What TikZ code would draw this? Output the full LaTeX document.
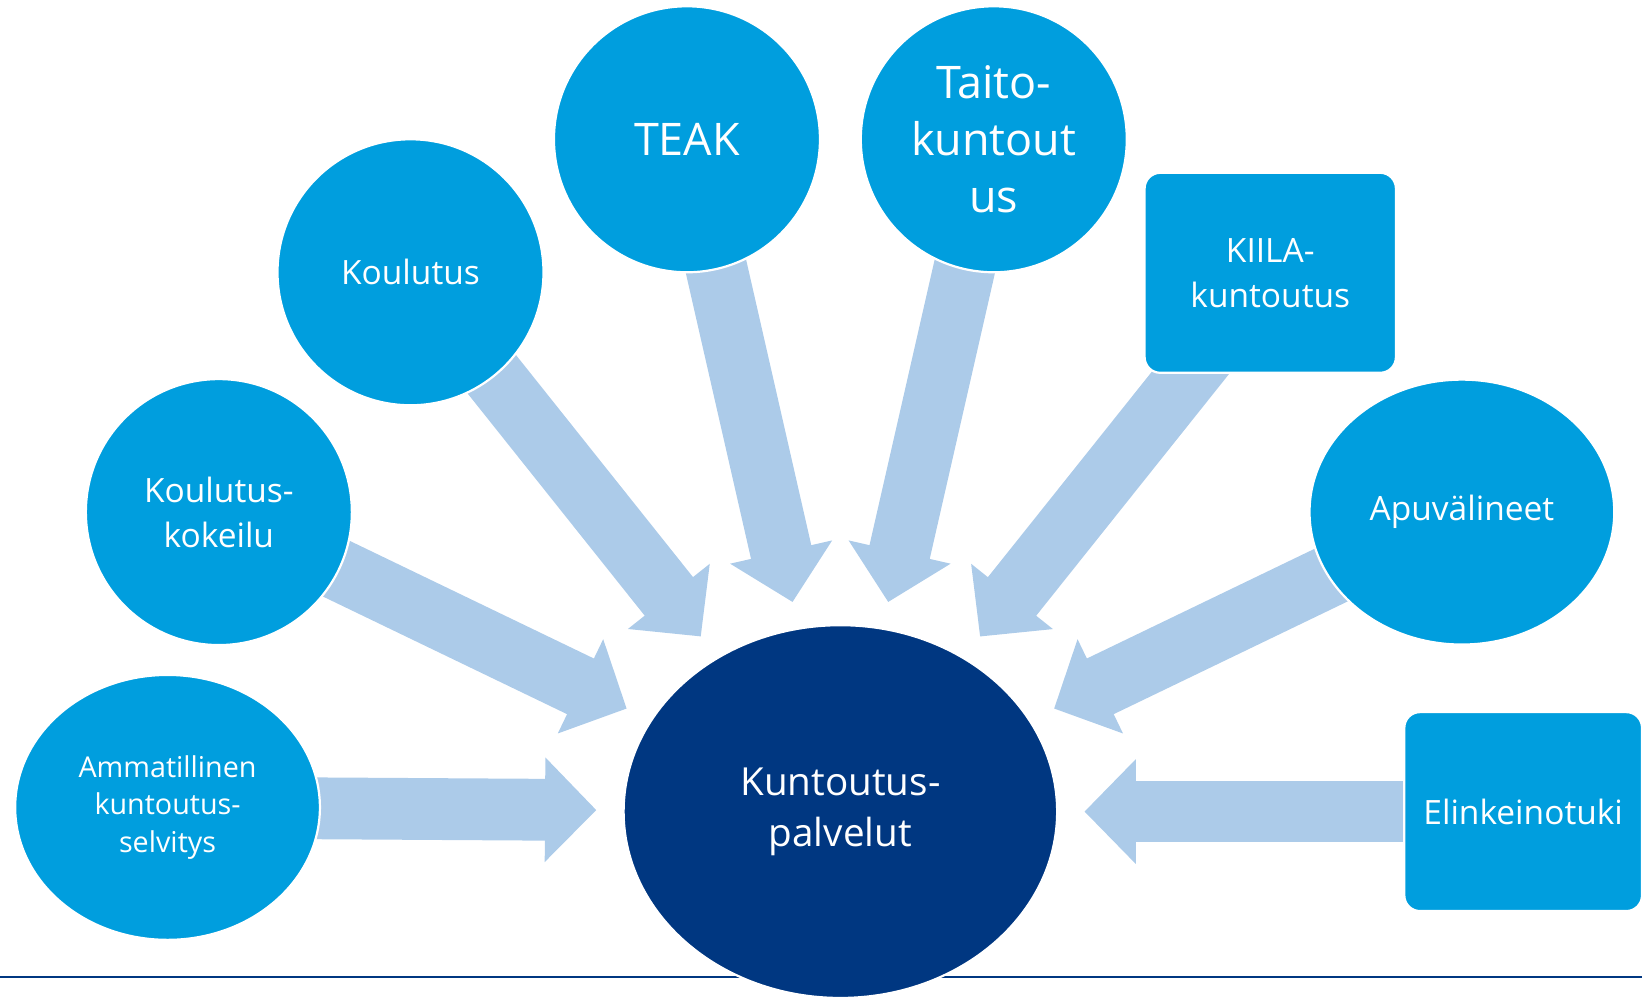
\documentclass[tikz,border=0pt]{standalone}
\usepackage{fontspec}
\setmainfont{Open Sans}
\usepackage{tikz}
\usetikzlibrary{arrows.meta,shapes.geometric,backgrounds}
\definecolor{bubbleblue}{RGB}{0,158,222}
\definecolor{corenavy}{RGB}{0,55,129}
\definecolor{feedblue}{RGB}{172,203,233}

\begin{document}
\begin{tikzpicture}[x=1cm,y=1cm,>={Triangle[length=0.49cm,width=0.97cm]}, every node/.style={text=white,align=center,inner sep=0pt}]
    \tikzset{bubble/.style={circle,draw=white,line width=0.6pt,fill=bubbleblue,minimum size=2.54cm}}
    \tikzset{oval/.style={ellipse,draw=white,line width=0.6pt,fill=bubbleblue,minimum width=2.91cm,minimum height=2.53cm}}
    \tikzset{card/.style={rectangle,draw=white,line width=0.6pt,fill=bubbleblue,rounded corners=0.15cm}}
    \tikzset{feed/.style={->,draw=feedblue,line width=0.59cm,shorten >=0.25cm}}
    \tikzset{bigtxt/.style={font=\fontsize{12.2}{15.4}\selectfont}}
    \tikzset{midtxt/.style={font=\fontsize{9.1}{12.2}\selectfont}}
    \tikzset{smalltxt/.style={font=\fontsize{7.8}{10.2}\selectfont}}
    \useasboundingbox (0,0) rectangle (15.68,9.52);

    % centre
    \node[ellipse,draw=white,line width=0.6pt,fill=corenavy,minimum width=4.14cm,minimum height=3.56cm,font=\fontsize{10.5}{13.9}\selectfont] (core) at (8.025,1.77) {Kuntoutus-\\palvelut};

    % left side
    \node[oval,smalltxt] (amm) at (1.60,1.81) {Ammatillinen\\kuntoutus-\\selvitys};
    \node[bubble,midtxt] (kokeilu) at (2.09,4.63) {Koulutus-\\kokeilu};
    \node[bubble,midtxt] (koulutus) at (3.92,6.92) {Koulutus};
    \node[bubble,bigtxt] (teak) at (6.56,8.19) {TEAK};

    % right side
    \node[bubble,bigtxt] (taito) at (9.49,8.19) {Taito-\\kuntout\\us};
    \node[card,midtxt,minimum width=2.40cm,minimum height=1.91cm] (kiila) at (12.13,6.915) {KIILA-\\kuntoutus};
    \node[oval,midtxt] (apu) at (13.96,4.63) {Apuvälineet};
    \node[card,midtxt,minimum width=2.27cm,minimum height=1.90cm] (elin) at (14.545,1.77) {Elinkeinotuki};

    % arrows into the centre, behind the bubbles
    \begin{scope}[on background layer]
      \draw[corenavy,line width=0.7pt] (0,0.19) -- (15.68,0.19);
      \draw[feed] (amm.center) -- (core);
      \draw[feed] (kokeilu.center) -- (core);
      \draw[feed] (koulutus.center) -- (core);
      \draw[feed] (teak.center) -- (core);
      \draw[feed] (taito.center) -- (core);
      \draw[feed] (kiila.center) -- (core);
      \draw[feed] (apu.center) -- (core);
      \draw[feed] (elin.center) -- (core);
    \end{scope}
\end{tikzpicture}
\end{document}
